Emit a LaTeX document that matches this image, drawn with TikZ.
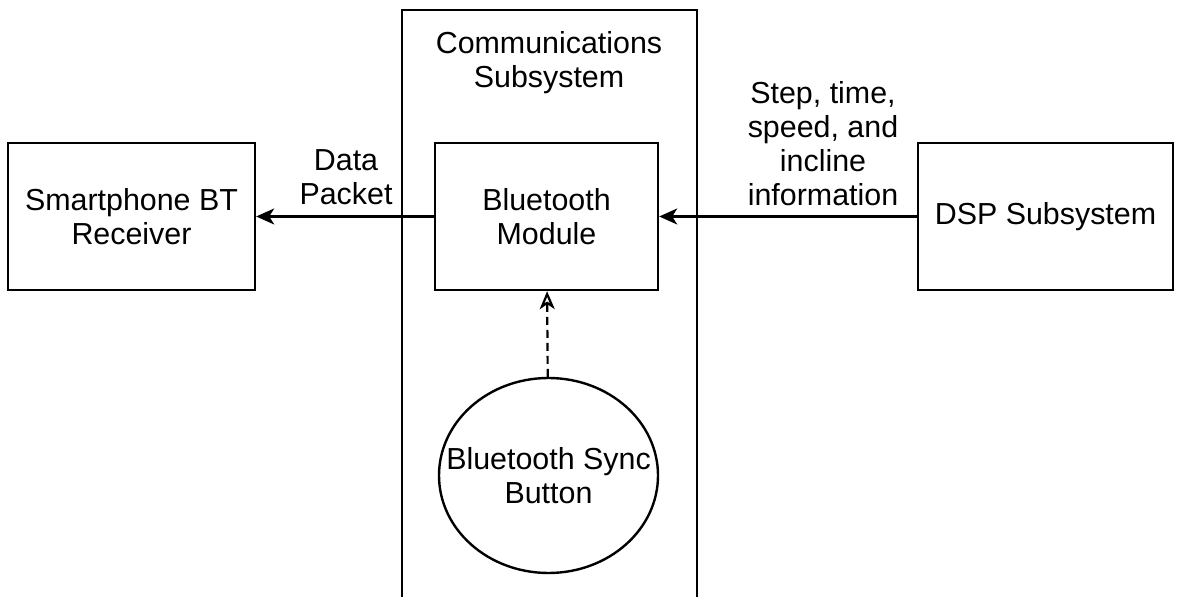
\documentclass[tikz,border=0pt]{standalone}
\usepackage{fontspec}
\setmainfont{Liberation Sans}
\usetikzlibrary{arrows.meta,shapes.geometric}

\tikzset{
  block/.style={draw,line width=1.2pt,minimum width=#1,minimum height=73.5pt,align=center,inner sep=0pt},
  block/.default=123.5pt,
  lbl/.style={align=center,inner sep=0pt},
  flow/.style={draw,line width=1.1pt,-{Stealth[length=9pt,width=8pt,inset=2.5pt]}},
  sync/.style={draw,line width=1.1pt,dash pattern=on 4pt off 2.5pt,-{Stealth[open,length=9pt,width=7.5pt,inset=2.5pt]}}
}

\begin{document}
\begin{tikzpicture}[x=0.5pt,y=-0.5pt,font=\fontsize{15.2}{17}\selectfont]
  \useasboundingbox (0,0) rectangle (1181,597);
  \clip (0,0) rectangle (1181,597);

  % container
  \node[draw,line width=1.2pt,minimum width=147.5pt,minimum height=340pt,inner sep=0pt,anchor=north] (comm) at (549.5,9) {};
  \node[lbl] (commtitle) at (549,63) {Communications\\Subsystem};

  % blocks
  \node[block] (phone) at (131.5,216.5) {Smartphone BT\\Receiver};
  \node[block=111.5pt] (bt) at (546.5,216.5) {Bluetooth\\Module};
  \node[block=127.5pt] (dsp) at (1045.5,216.5) {DSP Subsystem};
  \node[draw,ellipse,line width=1.2pt,minimum width=109.5pt,minimum height=97.5pt,inner sep=0pt,
        label={[lbl]center:{Bluetooth Sync\\Button}}] (button) at (548.5,475.5) {};

  % links
  \draw[flow] (bt) -- (phone);
  \draw[flow] (dsp) -- (bt);
  \draw[sync] (button) -- (bt);

  \node[lbl] (datalbl) at (346,177) {Data\\Packet};
  \node[lbl] (steplbl) at (823,144) {Step, time,\\speed, and\\incline\\information};
\end{tikzpicture}
\end{document}
